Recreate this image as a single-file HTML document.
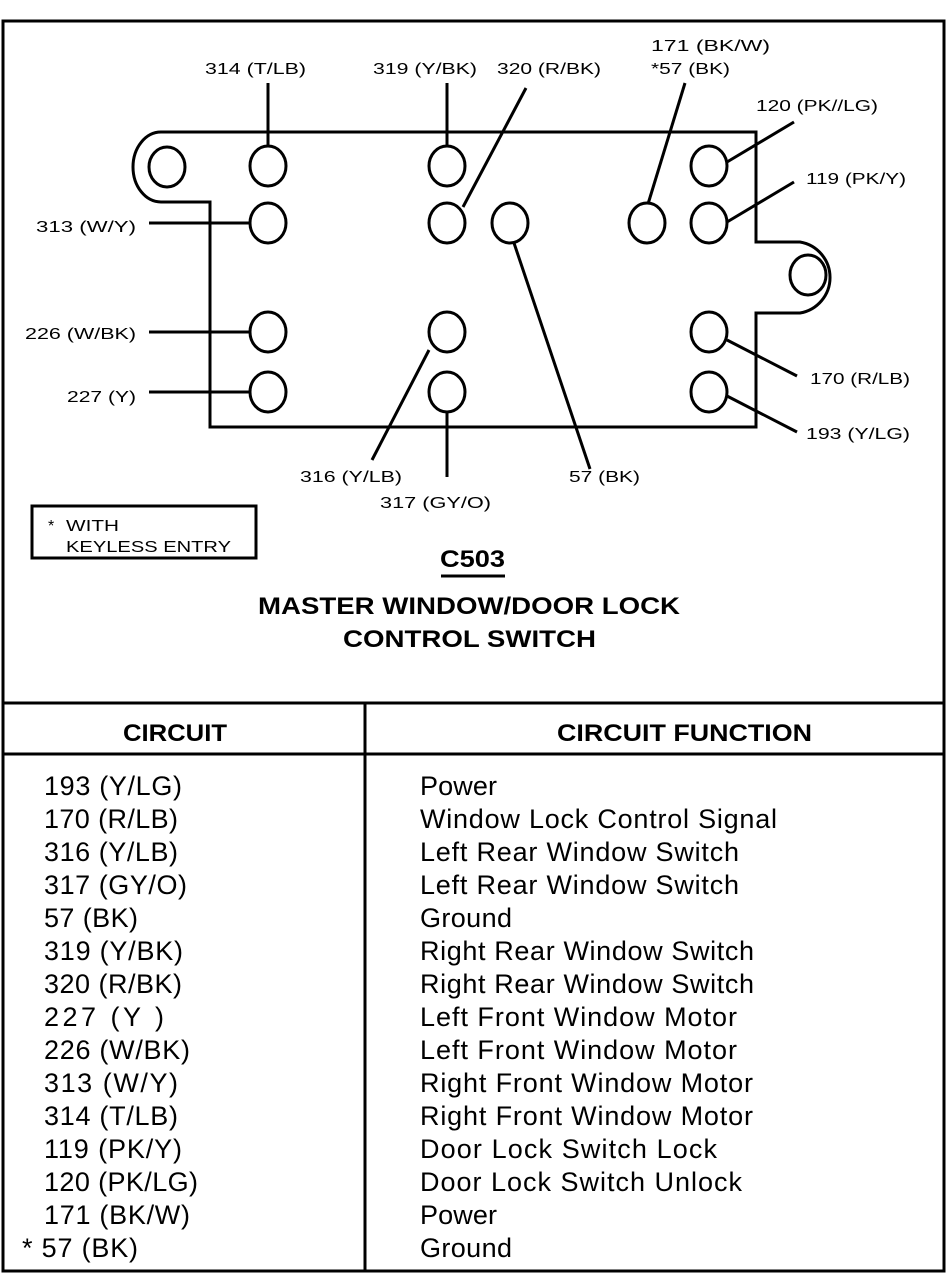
<!DOCTYPE html>
<html><head><meta charset="utf-8"><style>
html,body{margin:0;padding:0;background:#fff;}
svg{display:block;}
text{font-family:"Liberation Sans",sans-serif;fill:#000;}
.s{font-size:16px;}
.t{font-size:27px;}
.b{font-size:24px;font-weight:bold;}
</style></head><body>
<svg width="950" height="1280" viewBox="0 0 950 1280" xmlns="http://www.w3.org/2000/svg">
<g fill="none" stroke="#000" stroke-width="3">
<rect x="3" y="21" width="941" height="1250"/>
<line x1="3" y1="703" x2="944" y2="703"/>
<line x1="3" y1="754" x2="944" y2="754"/>
<line x1="365" y1="703" x2="365" y2="1271"/>
<path d="M210 427 V202 H161 A28 35 0 0 1 161 132 H756 V242 H800 A36 36 0 0 1 800 313 H756 V427 Z"/>
<ellipse cx="167" cy="167" rx="18" ry="20"/>
<ellipse cx="808" cy="275" rx="18" ry="20"/>
<ellipse cx="268" cy="166" rx="18" ry="20"/>
<ellipse cx="447" cy="166" rx="18" ry="20"/>
<ellipse cx="709" cy="166" rx="18" ry="20"/>
<ellipse cx="268" cy="223" rx="18" ry="20"/>
<ellipse cx="447" cy="223" rx="18" ry="20"/>
<ellipse cx="510" cy="223" rx="18" ry="20"/>
<ellipse cx="647" cy="223" rx="18" ry="20"/>
<ellipse cx="709" cy="223" rx="18" ry="20"/>
<ellipse cx="268" cy="332" rx="18" ry="20"/>
<ellipse cx="447" cy="332" rx="18" ry="20"/>
<ellipse cx="709" cy="332" rx="18" ry="20"/>
<ellipse cx="268" cy="392" rx="18" ry="20"/>
<ellipse cx="447" cy="392" rx="18" ry="20"/>
<ellipse cx="709" cy="392" rx="18" ry="20"/>
<line x1="268" y1="83" x2="268" y2="146"/>
<line x1="447" y1="83" x2="447" y2="146"/>
<line x1="526" y1="88" x2="463" y2="207"/>
<line x1="685" y1="83" x2="648" y2="204"/>
<line x1="794" y1="122" x2="727" y2="162"/>
<line x1="794" y1="182" x2="727" y2="222"/>
<line x1="149" y1="223" x2="250" y2="223"/>
<line x1="149" y1="332" x2="250" y2="332"/>
<line x1="149" y1="392" x2="250" y2="392"/>
<line x1="727" y1="340" x2="797" y2="376"/>
<line x1="727" y1="396" x2="797" y2="432"/>
<line x1="429" y1="350" x2="372" y2="460"/>
<line x1="447" y1="412" x2="447" y2="477"/>
<line x1="514" y1="243" x2="590" y2="469"/>
<rect x="32" y="506" width="224" height="52"/>
<line x1="441" y1="576" x2="505" y2="576"/>
</g>
<g>
<text class="s" x="205" y="74" textLength="101" lengthAdjust="spacingAndGlyphs">314 (T/LB)</text>
<text class="s" x="373" y="74" textLength="104" lengthAdjust="spacingAndGlyphs">319 (Y/BK)</text>
<text class="s" x="497" y="74" textLength="104" lengthAdjust="spacingAndGlyphs">320 (R/BK)</text>
<text class="s" x="651" y="51" textLength="119" lengthAdjust="spacingAndGlyphs">171 (BK/W)</text>
<text class="s" x="651" y="74" textLength="79" lengthAdjust="spacingAndGlyphs">*57 (BK)</text>
<text class="s" x="756" y="111" textLength="122" lengthAdjust="spacingAndGlyphs">120 (PK//LG)</text>
<text class="s" x="806" y="184" textLength="100" lengthAdjust="spacingAndGlyphs">119 (PK/Y)</text>
<text class="s" x="36" y="232" textLength="100" lengthAdjust="spacingAndGlyphs">313 (W/Y)</text>
<text class="s" x="25" y="339" textLength="111" lengthAdjust="spacingAndGlyphs">226 (W/BK)</text>
<text class="s" x="67" y="402" textLength="69" lengthAdjust="spacingAndGlyphs">227 (Y)</text>
<text class="s" x="810" y="384" textLength="100" lengthAdjust="spacingAndGlyphs">170 (R/LB)</text>
<text class="s" x="806" y="439" textLength="104" lengthAdjust="spacingAndGlyphs">193 (Y/LG)</text>
<text class="s" x="300" y="482" textLength="102" lengthAdjust="spacingAndGlyphs">316 (Y/LB)</text>
<text class="s" x="380" y="508" textLength="111" lengthAdjust="spacingAndGlyphs">317 (GY/O)</text>
<text class="s" x="569" y="482" textLength="71" lengthAdjust="spacingAndGlyphs">57 (BK)</text>
<text class="s" x="48" y="531">*</text>
<text class="s" x="66" y="531" textLength="53" lengthAdjust="spacingAndGlyphs">WITH</text>
<text class="s" x="66" y="552" textLength="165" lengthAdjust="spacingAndGlyphs">KEYLESS ENTRY</text>
<text class="b" x="440" y="567" textLength="65" lengthAdjust="spacingAndGlyphs">C503</text>
<text class="b" x="258" y="614" textLength="422" lengthAdjust="spacingAndGlyphs">MASTER WINDOW/DOOR LOCK</text>
<text class="b" x="343" y="647" textLength="253" lengthAdjust="spacingAndGlyphs">CONTROL SWITCH</text>
<text class="b" x="123" y="741" textLength="104" lengthAdjust="spacingAndGlyphs">CIRCUIT</text>
<text class="b" x="557" y="741" textLength="255" lengthAdjust="spacingAndGlyphs">CIRCUIT FUNCTION</text>
</g>
<g>
<text class="t" x="44" y="795" textLength="138">193 (Y/LG)</text>
<text class="t" x="44" y="828" textLength="134">170 (R/LB)</text>
<text class="t" x="44" y="861" textLength="134">316 (Y/LB)</text>
<text class="t" x="44" y="894" textLength="143">317 (GY/O)</text>
<text class="t" x="44" y="927" textLength="94">57 (BK)</text>
<text class="t" x="44" y="960" textLength="139">319 (Y/BK)</text>
<text class="t" x="44" y="993" textLength="138">320 (R/BK)</text>
<text class="t" x="44" y="1026" textLength="120">227 (Y )</text>
<text class="t" x="44" y="1059" textLength="146">226 (W/BK)</text>
<text class="t" x="44" y="1092" textLength="134">313 (W/Y)</text>
<text class="t" x="44" y="1125" textLength="134">314 (T/LB)</text>
<text class="t" x="44" y="1158" textLength="138">119 (PK/Y)</text>
<text class="t" x="44" y="1191" textLength="154">120 (PK/LG)</text>
<text class="t" x="44" y="1224" textLength="146">171 (BK/W)</text>
<text class="t" x="22" y="1257" textLength="116">* 57 (BK)</text>
<text class="t" x="420" y="795" textLength="77">Power</text>
<text class="t" x="420" y="828" textLength="357">Window Lock Control Signal</text>
<text class="t" x="420" y="861" textLength="319">Left Rear Window Switch</text>
<text class="t" x="420" y="894" textLength="319">Left Rear Window Switch</text>
<text class="t" x="420" y="927" textLength="92">Ground</text>
<text class="t" x="420" y="960" textLength="334">Right Rear Window Switch</text>
<text class="t" x="420" y="993" textLength="334">Right Rear Window Switch</text>
<text class="t" x="420" y="1026" textLength="317">Left Front Window Motor</text>
<text class="t" x="420" y="1059" textLength="317">Left Front Window Motor</text>
<text class="t" x="420" y="1092" textLength="333">Right Front Window Motor</text>
<text class="t" x="420" y="1125" textLength="333">Right Front Window Motor</text>
<text class="t" x="420" y="1158" textLength="297">Door Lock Switch Lock</text>
<text class="t" x="420" y="1191" textLength="322">Door Lock Switch Unlock</text>
<text class="t" x="420" y="1224" textLength="77">Power</text>
<text class="t" x="420" y="1257" textLength="92">Ground</text>
</g>
</svg>
</body></html>
